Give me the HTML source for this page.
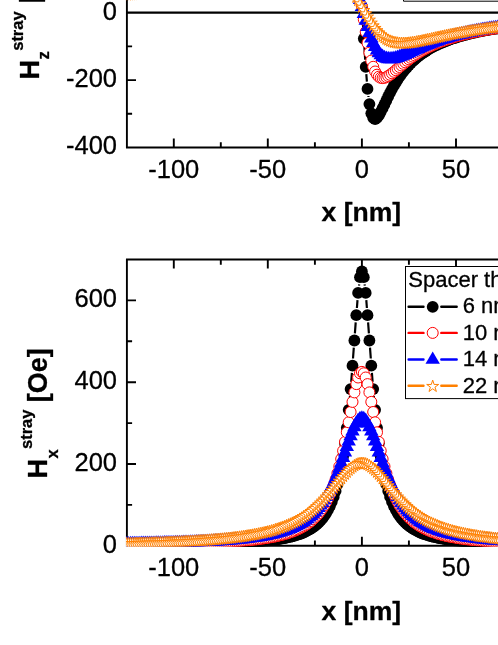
<!DOCTYPE html>
<html><head><meta charset="utf-8"><title>chart</title>
<style>
html,body{margin:0;padding:0;background:#fff;}
body{width:498px;height:645px;position:relative;overflow:hidden;font-family:"Liberation Sans",sans-serif;}
svg{position:absolute;left:0;top:0;display:block;will-change:transform;}
</style></head><body>
<svg width="498" height="645" viewBox="0 0 498 645">
<defs>
<marker id="mk" markerUnits="userSpaceOnUse" markerWidth="20" markerHeight="20" refX="0" refY="0" viewBox="-10 -10 20 20" overflow="visible"><circle r="5.9" fill="#000"/></marker>
<marker id="mr" markerUnits="userSpaceOnUse" markerWidth="20" markerHeight="20" refX="0" refY="0" viewBox="-10 -10 20 20" overflow="visible"><circle r="5.5" fill="#fff" stroke="#f00" stroke-width="1"/></marker>
<marker id="mb" markerUnits="userSpaceOnUse" markerWidth="20" markerHeight="20" refX="0" refY="0" viewBox="-10 -10 20 20" overflow="visible"><path d="M0 -8.1L7.2 4.3L-7.2 4.3Z" fill="#00f"/></marker>
<marker id="mo" markerUnits="userSpaceOnUse" markerWidth="20" markerHeight="20" refX="0" refY="0" viewBox="-10 -10 20 20" overflow="visible"><path d="M0.00 -5.70L1.41 -1.34L5.99 -1.35L2.28 1.34L3.70 5.70L0.00 3.00L-3.70 5.70L-2.28 1.34L-5.99 -1.35L-1.41 -1.34Z" fill="#fff" stroke="#ff8000" stroke-width="1"/></marker>
<clipPath id="ct"><rect x="126.0" y="-50" width="400" height="198.4"/></clipPath>
<clipPath id="cb"><rect x="126.0" y="258.6" width="400" height="287.79999999999995"/></clipPath>
</defs>
<rect width="498" height="645" fill="#fff"/>
<path d="M126.9 -5V147.5H503M126.9 46.4h5.2M126.9 80.1h9.1M126.9 113.8h5.2M173.8 147.5v-9.1M220.8 147.5v-5.2M267.8 147.5v-9.1M314.9 147.5v-5.2M361.9 147.5v-9.1M408.9 147.5v-5.2M456 147.5v-9.1M503 147.5v-5.2" stroke="#000" stroke-width="1.9" fill="none"/>
<path d="M403.5 -5V1.2H503" stroke="#000" stroke-width="1" fill="none"/>
<path d="M126.9 12.700000000000001H503" stroke="#000" stroke-width="2.3" fill="none"/>
<g clip-path="url(#ct)">
<path d="M306.8 -37.5L353 -27.1M360.4 -18.3L361.5 -0.6M362.3 13.8L363.4 31.5M364.3 45.8L365.2 59.7M366.3 74.1L366.9 81.7M368.4 96L368.5 97" stroke="#000" stroke-width="2.2" fill="none"/>
<polyline points="126.7,-6 128.6,-6.1 130.5,-6.2 132.4,-6.3 134.3,-6.4 136.1,-6.5 138,-6.6 139.9,-6.7 141.8,-6.8 143.7,-7 145.6,-7.1 147.4,-7.2 149.3,-7.3 151.2,-7.4 153.1,-7.6 155,-7.7 156.8,-7.8 158.7,-8 160.6,-8.1 162.5,-8.2 164.4,-8.4 166.2,-8.5 168.1,-8.7 170,-8.8 171.9,-8.9 173.8,-9.1 175.7,-9.3 177.5,-9.4 179.4,-9.6 181.3,-9.8 183.2,-9.9 185.1,-10.1 186.9,-10.3 188.8,-10.5 190.7,-10.6 192.6,-10.8 194.5,-11 196.3,-11.2 198.2,-11.4 200.1,-11.6 202,-11.8 203.9,-12.1 205.8,-12.3 207.6,-12.5 209.5,-12.7 211.4,-13 213.3,-13.2 215.2,-13.5 217,-13.7 218.9,-14 220.8,-14.3 222.7,-14.5 224.6,-14.8 226.4,-15.1 228.3,-15.4 230.2,-15.7 232.1,-16 234,-16.4 235.9,-16.7 237.7,-17 239.6,-17.4 241.5,-17.8 243.4,-18.1 245.3,-18.5 247.1,-18.9 249,-19.3 250.9,-19.8 252.8,-20.2 254.7,-20.7 256.5,-21.1 258.4,-21.6 260.3,-22.1 262.2,-22.6 264.1,-23.2 266,-23.7 267.8,-24.3 269.7,-24.9 271.6,-25.6 273.5,-26.2 275.4,-26.9 277.2,-27.6 279.1,-28.3 281,-29.1 282.9,-29.9 284.8,-30.8 286.6,-31.6 288.5,-32.6 290.4,-33.5 292.3,-34.5 294.2,-35.6 296.1,-36.7 297.9,-37.9 299.8,-39.1 360,-25.5 361.9,6.6 363.8,38.6 365.7,66.9 367.5,88.9 369.4,104.1 371.3,113.3 373.2,117.8 375.1,119 377,117.9 378.8,115.4 380.7,112 382.6,108.2 384.5,104.3 386.4,100.3 388.2,96.4 390.1,92.6 392,89.1 393.9,85.7 395.8,82.5 397.6,79.5 399.5,76.7 401.4,74 403.3,71.5 405.2,69.2 407.1,67 408.9,65 410.8,63 412.7,61.2 414.6,59.5 416.5,57.9 418.3,56.4 420.2,54.9 422.1,53.6 424,52.3 425.9,51 427.7,49.9 429.6,48.7 431.5,47.7 433.4,46.7 435.3,45.7 437.2,44.8 439,43.9 440.9,43.1 442.8,42.3 444.7,41.5 446.6,40.8 448.4,40.1 450.3,39.4 452.2,38.7 454.1,38.1 456,37.5 457.8,36.9 459.7,36.4 461.6,35.8 463.5,35.3 465.4,34.8 467.3,34.3 469.1,33.8 471,33.4 472.9,32.9 474.8,32.5 476.7,32.1 478.5,31.7 480.4,31.3 482.3,30.9 484.2,30.6 486.1,30.2 487.9,29.9 489.8,29.5 491.7,29.2 493.6,28.9 495.5,28.6 497.4,28.3 499.2,28 501.1,27.7 503,27.4 504.9,27.2 506.8,26.9 508.6,26.6 510.5,26.4 512.4,26.1" fill="none" stroke="none" marker-start="url(#mk)" marker-mid="url(#mk)" marker-end="url(#mk)"/>
<path d="M312.7 -39.7L347.2 -39.5" stroke="#f00" stroke-width="2.2" fill="none"/>
<polyline points="126.7,-5.9 128.6,-6 130.5,-6.1 132.4,-6.2 134.3,-6.3 136.1,-6.4 138,-6.6 139.9,-6.7 141.8,-6.8 143.7,-6.9 145.6,-7 147.4,-7.1 149.3,-7.2 151.2,-7.4 153.1,-7.5 155,-7.6 156.8,-7.7 158.7,-7.9 160.6,-8 162.5,-8.1 164.4,-8.3 166.2,-8.4 168.1,-8.5 170,-8.7 171.9,-8.8 173.8,-9 175.7,-9.1 177.5,-9.3 179.4,-9.5 181.3,-9.6 183.2,-9.8 185.1,-10 186.9,-10.1 188.8,-10.3 190.7,-10.5 192.6,-10.7 194.5,-10.9 196.3,-11.1 198.2,-11.2 200.1,-11.5 202,-11.7 203.9,-11.9 205.8,-12.1 207.6,-12.3 209.5,-12.5 211.4,-12.8 213.3,-13 215.2,-13.2 217,-13.5 218.9,-13.7 220.8,-14 222.7,-14.3 224.6,-14.5 226.4,-14.8 228.3,-15.1 230.2,-15.4 232.1,-15.7 234,-16 235.9,-16.3 237.7,-16.7 239.6,-17 241.5,-17.3 243.4,-17.7 245.3,-18.1 247.1,-18.4 249,-18.8 250.9,-19.2 252.8,-19.6 254.7,-20.1 256.5,-20.5 258.4,-21 260.3,-21.4 262.2,-21.9 264.1,-22.4 266,-22.9 267.8,-23.5 269.7,-24 271.6,-24.6 273.5,-25.2 275.4,-25.8 277.2,-26.5 279.1,-27.1 281,-27.8 282.9,-28.5 284.8,-29.3 286.6,-30 288.5,-30.8 290.4,-31.7 292.3,-32.5 294.2,-33.4 296.1,-34.4 297.9,-35.3 299.8,-36.4 301.7,-37.4 303.6,-38.5 305.5,-39.7 354.4,-39.5 356.3,-29.9 358.1,-18.7 360,-6.4 361.9,6.6 363.8,19.6 365.7,31.9 367.5,43.1 369.4,52.7 371.3,60.6 373.2,66.8 375.1,71.5 377,74.7 378.8,76.7 380.7,77.8 382.6,78.1 384.5,77.8 386.4,77.1 388.2,76 390.1,74.8 392,73.3 393.9,71.8 395.8,70.2 397.6,68.6 399.5,67 401.4,65.4 403.3,63.8 405.2,62.3 407.1,60.8 408.9,59.3 410.8,57.9 412.7,56.6 414.6,55.3 416.5,54 418.3,52.8 420.2,51.7 422.1,50.6 424,49.5 425.9,48.5 427.7,47.5 429.6,46.6 431.5,45.7 433.4,44.8 435.3,44 437.2,43.2 439,42.4 440.9,41.7 442.8,41 444.7,40.3 446.6,39.6 448.4,39 450.3,38.4 452.2,37.8 454.1,37.2 456,36.6 457.8,36.1 459.7,35.6 461.6,35.1 463.5,34.6 465.4,34.1 467.3,33.7 469.1,33.2 471,32.8 472.9,32.4 474.8,32 476.7,31.6 478.5,31.2 480.4,30.9 482.3,30.5 484.2,30.2 486.1,29.8 487.9,29.5 489.8,29.2 491.7,28.9 493.6,28.6 495.5,28.3 497.4,28 499.2,27.7 501.1,27.4 503,27.2 504.9,26.9 506.8,26.6 508.6,26.4 510.5,26.2 512.4,25.9" fill="none" stroke="none" marker-start="url(#mr)" marker-mid="url(#mr)" marker-end="url(#mr)"/>
<path d="M322.1 -39.7L337.8 -39.7" stroke="#00f" stroke-width="2.2" fill="none"/>
<polyline points="126.7,-5.8 128.6,-5.9 130.5,-6 132.4,-6.1 134.3,-6.2 136.1,-6.4 138,-6.5 139.9,-6.6 141.8,-6.7 143.7,-6.8 145.6,-6.9 147.4,-7 149.3,-7.1 151.2,-7.2 153.1,-7.4 155,-7.5 156.8,-7.6 158.7,-7.7 160.6,-7.9 162.5,-8 164.4,-8.1 166.2,-8.3 168.1,-8.4 170,-8.5 171.9,-8.7 173.8,-8.8 175.7,-9 177.5,-9.1 179.4,-9.3 181.3,-9.4 183.2,-9.6 185.1,-9.8 186.9,-9.9 188.8,-10.1 190.7,-10.3 192.6,-10.5 194.5,-10.6 196.3,-10.8 198.2,-11 200.1,-11.2 202,-11.4 203.9,-11.6 205.8,-11.8 207.6,-12 209.5,-12.2 211.4,-12.4 213.3,-12.7 215.2,-12.9 217,-13.1 218.9,-13.4 220.8,-13.6 222.7,-13.9 224.6,-14.1 226.4,-14.4 228.3,-14.7 230.2,-14.9 232.1,-15.2 234,-15.5 235.9,-15.8 237.7,-16.1 239.6,-16.4 241.5,-16.8 243.4,-17.1 245.3,-17.4 247.1,-17.8 249,-18.1 250.9,-18.5 252.8,-18.9 254.7,-19.3 256.5,-19.7 258.4,-20.1 260.3,-20.5 262.2,-20.9 264.1,-21.4 266,-21.9 267.8,-22.3 269.7,-22.8 271.6,-23.3 273.5,-23.8 275.4,-24.4 277.2,-24.9 279.1,-25.5 281,-26.1 282.9,-26.7 284.8,-27.3 286.6,-27.9 288.5,-28.6 290.4,-29.3 292.3,-30 294.2,-30.7 296.1,-31.4 297.9,-32.2 299.8,-33 301.7,-33.8 303.6,-34.6 305.5,-35.4 307.3,-36.2 309.2,-37.1 311.1,-38 313,-38.8 314.9,-39.7 345,-39.7 346.8,-37 348.7,-33.6 350.6,-29.6 352.5,-24.9 354.4,-19.6 356.3,-13.6 358.1,-7.2 360,-0.4 361.9,6.6 363.8,13.6 365.7,20.4 367.5,26.8 369.4,32.7 371.3,38.1 373.2,42.8 375.1,46.8 377,50.2 378.8,52.9 380.7,55 382.6,56.6 384.5,57.8 386.4,58.5 388.2,58.9 390.1,59 392,58.9 393.9,58.6 395.8,58.2 397.6,57.6 399.5,56.9 401.4,56.2 403.3,55.4 405.2,54.6 407.1,53.7 408.9,52.9 410.8,52 412.7,51.1 414.6,50.3 416.5,49.4 418.3,48.6 420.2,47.7 422.1,46.9 424,46.1 425.9,45.4 427.7,44.6 429.6,43.9 431.5,43.1 433.4,42.4 435.3,41.8 437.2,41.1 439,40.5 440.9,39.8 442.8,39.2 444.7,38.7 446.6,38.1 448.4,37.5 450.3,37 452.2,36.5 454.1,36 456,35.5 457.8,35 459.7,34.6 461.6,34.1 463.5,33.7 465.4,33.3 467.3,32.8 469.1,32.4 471,32.1 472.9,31.7 474.8,31.3 476.7,30.9 478.5,30.6 480.4,30.3 482.3,29.9 484.2,29.6 486.1,29.3 487.9,29 489.8,28.7 491.7,28.4 493.6,28.1 495.5,27.8 497.4,27.6 499.2,27.3 501.1,27 503,26.8 504.9,26.5 506.8,26.3 508.6,26.1 510.5,25.8 512.4,25.6" fill="none" stroke="none" marker-start="url(#mb)" marker-mid="url(#mb)" marker-end="url(#mb)"/>
<polyline points="126.7,-5.7 128.6,-5.8 130.5,-5.8 132.4,-5.9 134.3,-6 136.1,-6.1 138,-6.2 139.9,-6.3 141.8,-6.4 143.7,-6.5 145.6,-6.7 147.4,-6.8 149.3,-6.9 151.2,-7 153.1,-7.1 155,-7.2 156.8,-7.3 158.7,-7.4 160.6,-7.6 162.5,-7.7 164.4,-7.8 166.2,-7.9 168.1,-8.1 170,-8.2 171.9,-8.3 173.8,-8.5 175.7,-8.6 177.5,-8.7 179.4,-8.9 181.3,-9 183.2,-9.2 185.1,-9.3 186.9,-9.5 188.8,-9.6 190.7,-9.8 192.6,-10 194.5,-10.1 196.3,-10.3 198.2,-10.5 200.1,-10.6 202,-10.8 203.9,-11 205.8,-11.2 207.6,-11.4 209.5,-11.6 211.4,-11.8 213.3,-12 215.2,-12.2 217,-12.4 218.9,-12.6 220.8,-12.8 222.7,-13 224.6,-13.3 226.4,-13.5 228.3,-13.7 230.2,-14 232.1,-14.2 234,-14.4 235.9,-14.7 237.7,-15 239.6,-15.2 241.5,-15.5 243.4,-15.8 245.3,-16.1 247.1,-16.3 249,-16.6 250.9,-16.9 252.8,-17.2 254.7,-17.6 256.5,-17.9 258.4,-18.2 260.3,-18.5 262.2,-18.9 264.1,-19.2 266,-19.6 267.8,-19.9 269.7,-20.3 271.6,-20.7 273.5,-21 275.4,-21.4 277.2,-21.8 279.1,-22.2 281,-22.6 282.9,-23 284.8,-23.4 286.6,-23.8 288.5,-24.3 290.4,-24.7 292.3,-25.1 294.2,-25.5 296.1,-25.9 297.9,-26.3 299.8,-26.7 301.7,-27.1 303.6,-27.5 305.5,-27.9 307.3,-28.2 309.2,-28.5 311.1,-28.8 313,-29.1 314.9,-29.3 316.7,-29.5 318.6,-29.6 320.5,-29.7 322.4,-29.7 324.3,-29.6 326.2,-29.4 328,-29.1 329.9,-28.6 331.8,-28.1 333.7,-27.3 335.6,-26.5 337.4,-25.4 339.3,-24.1 341.2,-22.7 343.1,-21 345,-19.1 346.8,-17 348.7,-14.6 350.6,-12.1 352.5,-9.3 354.4,-6.4 356.3,-3.3 358.1,-0 360,3.2 361.9,6.6 363.8,9.9 365.7,13.2 367.5,16.4 369.4,19.5 371.3,22.5 373.2,25.2 375.1,27.8 377,30.1 378.8,32.3 380.7,34.2 382.6,35.8 384.5,37.3 386.4,38.6 388.2,39.6 390.1,40.5 392,41.2 393.9,41.8 395.8,42.2 397.6,42.5 399.5,42.7 401.4,42.8 403.3,42.8 405.2,42.8 407.1,42.7 408.9,42.5 410.8,42.3 412.7,42 414.6,41.7 416.5,41.4 418.3,41 420.2,40.7 422.1,40.3 424,39.9 425.9,39.5 427.7,39.1 429.6,38.7 431.5,38.3 433.4,37.8 435.3,37.4 437.2,37 439,36.6 440.9,36.2 442.8,35.8 444.7,35.4 446.6,35 448.4,34.6 450.3,34.2 452.2,33.8 454.1,33.5 456,33.1 457.8,32.7 459.7,32.4 461.6,32 463.5,31.7 465.4,31.4 467.3,31 469.1,30.7 471,30.4 472.9,30.1 474.8,29.8 476.7,29.5 478.5,29.2 480.4,28.9 482.3,28.7 484.2,28.4 486.1,28.1 487.9,27.9 489.8,27.6 491.7,27.4 493.6,27.1 495.5,26.9 497.4,26.6 499.2,26.4 501.1,26.2 503,26 504.9,25.8 506.8,25.5 508.6,25.3 510.5,25.1 512.4,24.9" fill="none" stroke="none" marker-start="url(#mo)" marker-mid="url(#mo)" marker-end="url(#mo)"/>
</g>
<path d="M503 259.5H126.9V545.8H503M126.9 504.9h5.2M126.9 464h9.1M126.9 423.1h5.2M126.9 382.2h9.1M126.9 341.3h5.2M126.9 300.4h9.1M173.8 545.8v-9.1M173.8 259.5v9.1M220.8 545.8v-5.2M220.8 259.5v5.2M267.8 545.8v-9.1M267.8 259.5v9.1M314.9 545.8v-5.2M314.9 259.5v5.2M361.9 545.8v-9.1M361.9 259.5v9.1M408.9 545.8v-5.2M408.9 259.5v5.2M456 545.8v-9.1M456 259.5v9.1M503 545.8v-5.2M503 259.5v5.2" stroke="#000" stroke-width="1.9" fill="none"/>
<g clip-path="url(#cb)">
<path d="M345.8 436L346 435M347.6 420.7L348 417M349.4 402.7L350 396.2M351.2 381.9L351.9 372.8M353 358.5L353.8 347.6M354.9 333.3L355.7 322.4M356.9 308L357.5 300.1M359 285.7L359.2 284.3M364.6 284.3L364.8 285.7M366.3 300.1L366.9 308M368.1 322.4L368.9 333.3M370 347.6L370.8 358.5M371.9 372.8L372.6 381.9M373.8 396.2L374.4 402.7M375.8 417L376.2 420.7M377.8 435L378 436" stroke="#000" stroke-width="2.2" fill="none"/>
<polyline points="126.7,544.9 128.6,544.9 130.5,544.9 132.4,544.9 134.3,544.9 136.1,544.9 138,544.9 139.9,544.8 141.8,544.8 143.7,544.8 145.6,544.8 147.4,544.8 149.3,544.7 151.2,544.7 153.1,544.7 155,544.7 156.8,544.7 158.7,544.6 160.6,544.6 162.5,544.6 164.4,544.6 166.2,544.6 168.1,544.5 170,544.5 171.9,544.5 173.8,544.5 175.7,544.4 177.5,544.4 179.4,544.4 181.3,544.3 183.2,544.3 185.1,544.3 186.9,544.2 188.8,544.2 190.7,544.2 192.6,544.1 194.5,544.1 196.3,544.1 198.2,544 200.1,544 202,543.9 203.9,543.9 205.8,543.9 207.6,543.8 209.5,543.8 211.4,543.7 213.3,543.7 215.2,543.6 217,543.5 218.9,543.5 220.8,543.4 222.7,543.4 224.6,543.3 226.4,543.2 228.3,543.2 230.2,543.1 232.1,543 234,542.9 235.9,542.8 237.7,542.7 239.6,542.6 241.5,542.5 243.4,542.4 245.3,542.3 247.1,542.2 249,542.1 250.9,542 252.8,541.8 254.7,541.7 256.5,541.6 258.4,541.4 260.3,541.3 262.2,541.1 264.1,540.9 266,540.7 267.8,540.5 269.7,540.3 271.6,540.1 273.5,539.8 275.4,539.6 277.2,539.3 279.1,539 281,538.7 282.9,538.4 284.8,538 286.6,537.6 288.5,537.2 290.4,536.8 292.3,536.3 294.2,535.8 296.1,535.2 297.9,534.6 299.8,534 301.7,533.3 303.6,532.5 305.5,531.6 307.3,530.7 309.2,529.6 311.1,528.5 313,527.2 314.9,525.8 316.7,524.3 318.6,522.5 320.5,520.6 322.4,518.4 324.3,515.9 326.2,513.1 328,509.8 329.9,506.1 331.8,501.8 333.7,496.9 335.6,491.1 337.4,484.4 339.3,476.5 341.2,467.2 343.1,456.2 345,443.2 346.8,427.8 348.7,409.8 350.6,389.1 352.5,365.7 354.4,340.5 356.3,315.2 358.1,292.9 360,277.2 361.9,271.5 363.8,277.2 365.7,292.9 367.5,315.2 369.4,340.5 371.3,365.7 373.2,389.1 375.1,409.8 377,427.8 378.8,443.2 380.7,456.2 382.6,467.2 384.5,476.5 386.4,484.4 388.2,491.1 390.1,496.9 392,501.8 393.9,506.1 395.8,509.8 397.6,513.1 399.5,515.9 401.4,518.4 403.3,520.6 405.2,522.5 407.1,524.3 408.9,525.8 410.8,527.2 412.7,528.5 414.6,529.6 416.5,530.7 418.3,531.6 420.2,532.5 422.1,533.3 424,534 425.9,534.6 427.7,535.2 429.6,535.8 431.5,536.3 433.4,536.8 435.3,537.2 437.2,537.6 439,538 440.9,538.4 442.8,538.7 444.7,539 446.6,539.3 448.4,539.6 450.3,539.8 452.2,540.1 454.1,540.3 456,540.5 457.8,540.7 459.7,540.9 461.6,541.1 463.5,541.3 465.4,541.4 467.3,541.6 469.1,541.7 471,541.8 472.9,542 474.8,542.1 476.7,542.2 478.5,542.3 480.4,542.4 482.3,542.5 484.2,542.6 486.1,542.7 487.9,542.8 489.8,542.9 491.7,543 493.6,543.1 495.5,543.2 497.4,543.2 499.2,543.3 501.1,543.4 503,543.4 504.9,543.5 506.8,543.5 508.6,543.6 510.5,543.7 512.4,543.7" fill="none" stroke="none" marker-start="url(#mk)" marker-mid="url(#mk)" marker-end="url(#mk)"/>
<polyline points="126.7,544.5 128.6,544.4 130.5,544.4 132.4,544.4 134.3,544.4 136.1,544.3 138,544.3 139.9,544.3 141.8,544.3 143.7,544.2 145.6,544.2 147.4,544.2 149.3,544.2 151.2,544.1 153.1,544.1 155,544.1 156.8,544 158.7,544 160.6,544 162.5,543.9 164.4,543.9 166.2,543.9 168.1,543.8 170,543.8 171.9,543.8 173.8,543.7 175.7,543.7 177.5,543.6 179.4,543.6 181.3,543.5 183.2,543.5 185.1,543.4 186.9,543.4 188.8,543.3 190.7,543.3 192.6,543.2 194.5,543.2 196.3,543.1 198.2,543.1 200.1,543 202,542.9 203.9,542.9 205.8,542.8 207.6,542.7 209.5,542.6 211.4,542.6 213.3,542.5 215.2,542.4 217,542.3 218.9,542.2 220.8,542.1 222.7,542 224.6,541.9 226.4,541.8 228.3,541.7 230.2,541.6 232.1,541.5 234,541.3 235.9,541.2 237.7,541.1 239.6,540.9 241.5,540.8 243.4,540.6 245.3,540.5 247.1,540.3 249,540.1 250.9,539.9 252.8,539.7 254.7,539.5 256.5,539.3 258.4,539.1 260.3,538.8 262.2,538.6 264.1,538.3 266,538 267.8,537.7 269.7,537.4 271.6,537.1 273.5,536.7 275.4,536.4 277.2,536 279.1,535.5 281,535.1 282.9,534.6 284.8,534.1 286.6,533.5 288.5,532.9 290.4,532.3 292.3,531.6 294.2,530.9 296.1,530.1 297.9,529.3 299.8,528.4 301.7,527.4 303.6,526.3 305.5,525.1 307.3,523.9 309.2,522.5 311.1,521 313,519.3 314.9,517.5 316.7,515.6 318.6,513.4 320.5,511 322.4,508.3 324.3,505.4 326.2,502.1 328,498.5 329.9,494.5 331.8,490 333.7,485 335.6,479.5 337.4,473.3 339.3,466.5 341.2,459 343.1,450.8 345,441.9 346.8,432.3 348.7,422.3 350.6,412 352.5,401.9 354.4,392.4 356.3,384.1 358.1,377.5 360,373.3 361.9,371.9 363.8,373.3 365.7,377.5 367.5,384.1 369.4,392.4 371.3,401.9 373.2,412 375.1,422.3 377,432.3 378.8,441.9 380.7,450.8 382.6,459 384.5,466.5 386.4,473.3 388.2,479.5 390.1,485 392,490 393.9,494.5 395.8,498.5 397.6,502.1 399.5,505.4 401.4,508.3 403.3,511 405.2,513.4 407.1,515.6 408.9,517.5 410.8,519.3 412.7,521 414.6,522.5 416.5,523.9 418.3,525.1 420.2,526.3 422.1,527.4 424,528.4 425.9,529.3 427.7,530.1 429.6,530.9 431.5,531.6 433.4,532.3 435.3,532.9 437.2,533.5 439,534.1 440.9,534.6 442.8,535.1 444.7,535.5 446.6,536 448.4,536.4 450.3,536.7 452.2,537.1 454.1,537.4 456,537.7 457.8,538 459.7,538.3 461.6,538.6 463.5,538.8 465.4,539.1 467.3,539.3 469.1,539.5 471,539.7 472.9,539.9 474.8,540.1 476.7,540.3 478.5,540.5 480.4,540.6 482.3,540.8 484.2,540.9 486.1,541.1 487.9,541.2 489.8,541.3 491.7,541.5 493.6,541.6 495.5,541.7 497.4,541.8 499.2,541.9 501.1,542 503,542.1 504.9,542.2 506.8,542.3 508.6,542.4 510.5,542.5 512.4,542.6" fill="none" stroke="none" marker-start="url(#mr)" marker-mid="url(#mr)" marker-end="url(#mr)"/>
<polyline points="126.7,544 128.6,544 130.5,543.9 132.4,543.9 134.3,543.9 136.1,543.8 138,543.8 139.9,543.8 141.8,543.7 143.7,543.7 145.6,543.7 147.4,543.6 149.3,543.6 151.2,543.5 153.1,543.5 155,543.5 156.8,543.4 158.7,543.4 160.6,543.3 162.5,543.3 164.4,543.2 166.2,543.2 168.1,543.1 170,543.1 171.9,543 173.8,543 175.7,542.9 177.5,542.9 179.4,542.8 181.3,542.8 183.2,542.7 185.1,542.6 186.9,542.6 188.8,542.5 190.7,542.4 192.6,542.3 194.5,542.3 196.3,542.2 198.2,542.1 200.1,542 202,541.9 203.9,541.8 205.8,541.8 207.6,541.7 209.5,541.6 211.4,541.5 213.3,541.3 215.2,541.2 217,541.1 218.9,541 220.8,540.9 222.7,540.8 224.6,540.6 226.4,540.5 228.3,540.3 230.2,540.2 232.1,540 234,539.9 235.9,539.7 237.7,539.5 239.6,539.3 241.5,539.1 243.4,538.9 245.3,538.7 247.1,538.5 249,538.3 250.9,538 252.8,537.8 254.7,537.5 256.5,537.2 258.4,536.9 260.3,536.6 262.2,536.3 264.1,536 266,535.6 267.8,535.2 269.7,534.8 271.6,534.4 273.5,534 275.4,533.5 277.2,533 279.1,532.5 281,531.9 282.9,531.3 284.8,530.7 286.6,530 288.5,529.3 290.4,528.6 292.3,527.8 294.2,526.9 296.1,526 297.9,525 299.8,523.9 301.7,522.8 303.6,521.6 305.5,520.3 307.3,518.9 309.2,517.3 311.1,515.7 313,513.9 314.9,512 316.7,510 318.6,507.7 320.5,505.3 322.4,502.7 324.3,499.9 326.2,496.8 328,493.6 329.9,490 331.8,486.2 333.7,482.1 335.6,477.7 337.4,473.1 339.3,468.1 341.2,463 343.1,457.6 345,452.2 346.8,446.6 348.7,441.2 350.6,436 352.5,431.2 354.4,426.9 356.3,423.3 358.1,420.6 360,418.9 361.9,418.4 363.8,418.9 365.7,420.6 367.5,423.3 369.4,426.9 371.3,431.2 373.2,436 375.1,441.2 377,446.6 378.8,452.2 380.7,457.6 382.6,463 384.5,468.1 386.4,473.1 388.2,477.7 390.1,482.1 392,486.2 393.9,490 395.8,493.6 397.6,496.8 399.5,499.9 401.4,502.7 403.3,505.3 405.2,507.7 407.1,510 408.9,512 410.8,513.9 412.7,515.7 414.6,517.3 416.5,518.9 418.3,520.3 420.2,521.6 422.1,522.8 424,523.9 425.9,525 427.7,526 429.6,526.9 431.5,527.8 433.4,528.6 435.3,529.3 437.2,530 439,530.7 440.9,531.3 442.8,531.9 444.7,532.5 446.6,533 448.4,533.5 450.3,534 452.2,534.4 454.1,534.8 456,535.2 457.8,535.6 459.7,536 461.6,536.3 463.5,536.6 465.4,536.9 467.3,537.2 469.1,537.5 471,537.8 472.9,538 474.8,538.3 476.7,538.5 478.5,538.7 480.4,538.9 482.3,539.1 484.2,539.3 486.1,539.5 487.9,539.7 489.8,539.9 491.7,540 493.6,540.2 495.5,540.3 497.4,540.5 499.2,540.6 501.1,540.8 503,540.9 504.9,541 506.8,541.1 508.6,541.2 510.5,541.3 512.4,541.5" fill="none" stroke="none" marker-start="url(#mb)" marker-mid="url(#mb)" marker-end="url(#mb)"/>
<polyline points="126.7,543.1 128.6,543 130.5,543 132.4,542.9 134.3,542.9 136.1,542.8 138,542.8 139.9,542.7 141.8,542.7 143.7,542.6 145.6,542.6 147.4,542.5 149.3,542.5 151.2,542.4 153.1,542.4 155,542.3 156.8,542.2 158.7,542.2 160.6,542.1 162.5,542.1 164.4,542 166.2,541.9 168.1,541.8 170,541.8 171.9,541.7 173.8,541.6 175.7,541.5 177.5,541.4 179.4,541.4 181.3,541.3 183.2,541.2 185.1,541.1 186.9,541 188.8,540.9 190.7,540.8 192.6,540.7 194.5,540.6 196.3,540.5 198.2,540.4 200.1,540.2 202,540.1 203.9,540 205.8,539.9 207.6,539.7 209.5,539.6 211.4,539.4 213.3,539.3 215.2,539.1 217,539 218.9,538.8 220.8,538.6 222.7,538.5 224.6,538.3 226.4,538.1 228.3,537.9 230.2,537.7 232.1,537.5 234,537.2 235.9,537 237.7,536.8 239.6,536.5 241.5,536.3 243.4,536 245.3,535.7 247.1,535.4 249,535.1 250.9,534.8 252.8,534.5 254.7,534.1 256.5,533.8 258.4,533.4 260.3,533 262.2,532.6 264.1,532.2 266,531.7 267.8,531.3 269.7,530.8 271.6,530.3 273.5,529.7 275.4,529.1 277.2,528.6 279.1,527.9 281,527.3 282.9,526.6 284.8,525.9 286.6,525.1 288.5,524.3 290.4,523.5 292.3,522.6 294.2,521.7 296.1,520.7 297.9,519.7 299.8,518.6 301.7,517.5 303.6,516.3 305.5,515 307.3,513.7 309.2,512.3 311.1,510.8 313,509.3 314.9,507.7 316.7,506 318.6,504.2 320.5,502.4 322.4,500.5 324.3,498.5 326.2,496.4 328,494.2 329.9,492 331.8,489.8 333.7,487.5 335.6,485.2 337.4,482.8 339.3,480.5 341.2,478.2 343.1,475.9 345,473.7 346.8,471.7 348.7,469.7 350.6,468 352.5,466.5 354.4,465.1 356.3,464.1 358.1,463.3 360,462.9 361.9,462.7 363.8,462.9 365.7,463.3 367.5,464.1 369.4,465.1 371.3,466.5 373.2,468 375.1,469.7 377,471.7 378.8,473.7 380.7,475.9 382.6,478.2 384.5,480.5 386.4,482.8 388.2,485.2 390.1,487.5 392,489.8 393.9,492 395.8,494.2 397.6,496.4 399.5,498.5 401.4,500.5 403.3,502.4 405.2,504.2 407.1,506 408.9,507.7 410.8,509.3 412.7,510.8 414.6,512.3 416.5,513.7 418.3,515 420.2,516.3 422.1,517.5 424,518.6 425.9,519.7 427.7,520.7 429.6,521.7 431.5,522.6 433.4,523.5 435.3,524.3 437.2,525.1 439,525.9 440.9,526.6 442.8,527.3 444.7,527.9 446.6,528.6 448.4,529.1 450.3,529.7 452.2,530.3 454.1,530.8 456,531.3 457.8,531.7 459.7,532.2 461.6,532.6 463.5,533 465.4,533.4 467.3,533.8 469.1,534.1 471,534.5 472.9,534.8 474.8,535.1 476.7,535.4 478.5,535.7 480.4,536 482.3,536.3 484.2,536.5 486.1,536.8 487.9,537 489.8,537.2 491.7,537.5 493.6,537.7 495.5,537.9 497.4,538.1 499.2,538.3 501.1,538.5 503,538.6 504.9,538.8 506.8,539 508.6,539.1 510.5,539.3 512.4,539.4" fill="none" stroke="none" marker-start="url(#mo)" marker-mid="url(#mo)" marker-end="url(#mo)"/>
</g>
<rect x="405.5" y="266.5" width="120" height="132.1" fill="#fff" stroke="#000" stroke-width="1"/>
<path d="M408.6 306.8H423.5M441.3 306.8H456.7" stroke="#000" stroke-width="2.4" stroke-linecap="round"/>
<g transform="translate(432.7 306.8)"><circle r="5.9" fill="#000"/></g>
<path d="M408.6 332.9H423.5M441.3 332.9H456.7" stroke="#f00" stroke-width="2.4" stroke-linecap="round"/>
<g transform="translate(432.7 332.9)"><circle r="5.5" fill="#fff" stroke="#f00" stroke-width="1"/></g>
<path d="M408.6 359.5H423.5M441.3 359.5H456.7" stroke="#00f" stroke-width="2.4" stroke-linecap="round"/>
<g transform="translate(432.7 359.5)"><path d="M0 -8.1L7.2 4.3L-7.2 4.3Z" fill="#00f"/></g>
<path d="M408.6 385.8H423.5M441.3 385.8H456.7" stroke="#ff8000" stroke-width="2.4" stroke-linecap="round"/>
<g transform="translate(432.7 385.8)"><path d="M0.00 -5.70L1.41 -1.34L5.99 -1.35L2.28 1.34L3.70 5.70L0.00 3.00L-3.70 5.70L-2.28 1.34L-5.99 -1.35L-1.41 -1.34Z" fill="#fff" stroke="#ff8000" stroke-width="1"/></g>
<g font-family="Liberation Sans, sans-serif" fill="#000" stroke="#000" stroke-width="0.3" stroke-linejoin="round">
<text x="117" y="19.6" font-size="25.5" text-anchor="end">0</text>
<text x="117" y="87" font-size="25.5" text-anchor="end">-200</text>
<text x="117" y="154.4" font-size="25.5" text-anchor="end">-400</text>
<text x="117" y="552.5" font-size="25.5" text-anchor="end">0</text>
<text x="117" y="470.7" font-size="25.5" text-anchor="end">200</text>
<text x="117" y="388.9" font-size="25.5" text-anchor="end">400</text>
<text x="117" y="307.1" font-size="25.5" text-anchor="end">600</text>
<text x="173.8" y="177.5" font-size="25.5" text-anchor="middle">-100</text>
<text x="173.8" y="575.7" font-size="25.5" text-anchor="middle">-100</text>
<text x="267.8" y="177.5" font-size="25.5" text-anchor="middle">-50</text>
<text x="267.8" y="575.7" font-size="25.5" text-anchor="middle">-50</text>
<text x="361.9" y="177.5" font-size="25.5" text-anchor="middle">0</text>
<text x="361.9" y="575.7" font-size="25.5" text-anchor="middle">0</text>
<text x="456" y="177.5" font-size="25.5" text-anchor="middle">50</text>
<text x="456" y="575.7" font-size="25.5" text-anchor="middle">50</text>
<text x="361.3" y="221" font-size="26.5" text-anchor="middle" font-weight="bold">x [nm]</text>
<text x="361.3" y="619.7" font-size="26.5" text-anchor="middle" font-weight="bold">x [nm]</text>
<text x="408.3" y="287.1" font-size="22" text-anchor="start">Spacer thickness</text>
<text x="462.7" y="313.4" font-size="22" text-anchor="start">6 nm</text>
<text x="462.7" y="339.5" font-size="22" text-anchor="start">10 nm</text>
<text x="462.7" y="366.1" font-size="22" text-anchor="start">14 nm</text>
<text x="462.7" y="392.6" font-size="22" text-anchor="start">22 nm</text>
<text transform="translate(38.5 79.4) rotate(-90)" font-size="27" font-weight="bold">H</text>
<text transform="translate(49 59.4) rotate(-90)" font-size="16.5" font-weight="bold">z</text>
<text transform="translate(23.4 50.8) rotate(-90)" font-size="16.5" font-weight="bold">stray</text>
<text transform="translate(38.5 3) rotate(-90)" font-size="27" font-weight="bold">[Oe]</text>
<text transform="translate(47.4 478.6) rotate(-90)" font-size="27" font-weight="bold">H</text>
<text transform="translate(57.9 458.6) rotate(-90)" font-size="16.5" font-weight="bold">x</text>
<text transform="translate(32.3 449) rotate(-90)" font-size="16.5" font-weight="bold">stray</text>
<text transform="translate(47.4 402.2) rotate(-90)" font-size="27" font-weight="bold">[Oe]</text>
</g>
</svg>
</body></html>
